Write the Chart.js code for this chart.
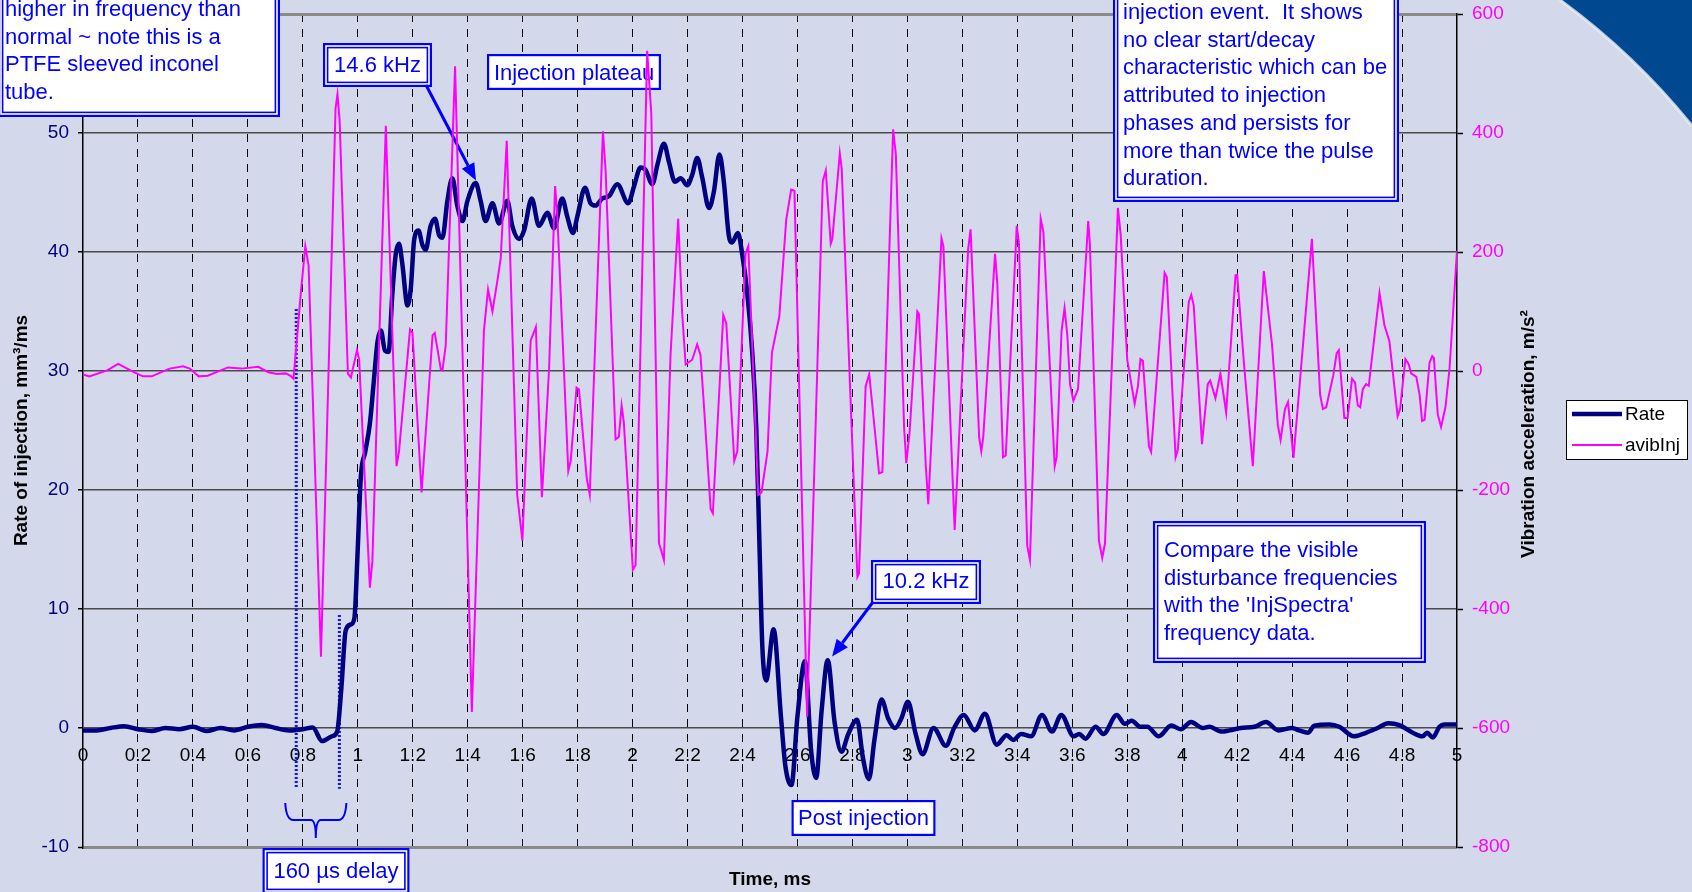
<!DOCTYPE html>
<html>
<head>
<meta charset="utf-8">
<title>Rate of injection vs vibration</title>
<script src="https://cdn.jsdelivr.net/npm/chart.js@4.4.1/dist/chart.umd.min.js"></script>
<style>
  html, body { margin: 0; padding: 0; background: #d3d9ea; }
  #wrap { position: relative; width: 1692px; height: 892px; overflow: hidden; }
  canvas { display: block; }
</style>
</head>
<body>
<div id="wrap"><canvas id="injChart" width="1692" height="892"></canvas></div>
<script>
// [time ms, rate mm3/ms]
const ratePoints = [
  [0.00,-0.2],[0.05,-0.2],[0.10,0.0],[0.15,0.15],[0.20,-0.1],[0.25,-0.25],[0.30,0.0],[0.35,-0.1],[0.40,0.1],[0.45,-0.25],
  [0.50,0.0],[0.55,-0.2],[0.60,0.1],[0.65,0.25],[0.70,0.0],[0.75,-0.2],[0.80,-0.1],[0.836,0.05],[0.870,-1.1],[0.905,-0.7],
  [0.925,-0.3],[0.940,3.3],[0.956,8.2],[0.975,8.7],[0.988,9.3],[0.999,14.6],[1.011,21.1],[1.027,23.2],[1.044,25.6],[1.057,28.8],
  [1.072,32.5],[1.084,33.4],[1.099,31.7],[1.112,31.6],[1.126,36.6],[1.138,39.8],[1.150,40.7],[1.162,39.0],[1.181,35.5],[1.193,37.0],
  [1.205,41.0],[1.221,41.8],[1.235,40.6],[1.247,40.2],[1.265,42.2],[1.281,42.8],[1.296,41.4],[1.308,41.2],[1.326,44.3],[1.344,46.2],
  [1.362,43.9],[1.381,42.6],[1.399,44.3],[1.429,45.8],[1.447,44.3],[1.465,42.6],[1.490,44.1],[1.514,42.4],[1.544,44.3],[1.562,42.2],
  [1.587,41.1],[1.605,41.8],[1.633,44.5],[1.659,42.2],[1.690,43.3],[1.714,42.0],[1.744,44.5],[1.762,43.0],[1.783,41.6],[1.799,43.0],
  [1.827,45.4],[1.847,44.1],[1.865,43.9],[1.890,44.5],[1.914,44.7],[1.944,45.7],[1.984,44.1],[2.005,45.5],[2.029,47.1],[2.047,46.9],
  [2.072,45.7],[2.090,47.3],[2.114,49.1],[2.133,47.5],[2.154,45.9],[2.175,46.2],[2.199,45.6],[2.217,46.5],[2.235,47.9],[2.253,46.3],
  [2.278,43.7],[2.296,45.1],[2.316,48.2],[2.332,45.9],[2.350,41.4],[2.362,40.8],[2.383,41.6],[2.399,39.8],[2.417,36.6],[2.435,31.7],
  [2.450,25.2],[2.462,15.1],[2.472,6.9],[2.486,4.0],[2.513,8.3],[2.540,0.9],[2.556,-3.2],[2.578,-4.8],[2.600,1.0],[2.627,5.6],
  [2.650,-2.0],[2.668,-4.2],[2.688,1.5],[2.710,5.7],[2.735,0.5],[2.760,-2.0],[2.785,-0.5],[2.817,0.7],[2.838,-2.5],[2.860,-4.3],
  [2.880,-1.0],[2.906,2.4],[2.930,0.8],[2.955,0.0],[2.978,0.8],[3.002,2.2],[3.030,-0.5],[3.055,-2.2],[3.095,0.0],[3.140,-1.5],
  [3.170,0.0],[3.205,1.1],[3.245,-0.2],[3.282,1.2],[3.325,-1.4],[3.361,-0.6],[3.385,-1.0],[3.414,-0.5],[3.450,-0.7],[3.490,1.1],
  [3.526,-0.3],[3.560,1.1],[3.605,-0.7],[3.625,-0.5],[3.648,-0.9],[3.685,0.1],[3.713,-0.5],[3.762,1.1],[3.791,0.35],[3.816,0.6],
  [3.848,0.1],[3.873,0.1],[3.915,-0.7],[3.960,0.2],[3.995,-0.1],[4.032,0.5],[4.075,0.0],[4.100,0.1],[4.141,-0.3],[4.173,-0.2],
  [4.213,0.0],[4.263,0.1],[4.305,0.5],[4.350,-0.2],[4.400,0.0],[4.425,-0.2],[4.457,-0.4],[4.481,0.2],[4.536,0.3],[4.572,0.1],
  [4.625,-0.7],[4.669,-0.4],[4.711,0.0],[4.750,0.4],[4.790,0.25],[4.839,-0.4],[4.875,-0.7],[4.891,-0.4],[4.912,-0.8],[4.936,0.1],
  [4.954,0.3],[5.000,0.3]
];

// [time ms, acceleration m/s2]
const vibPoints = [
  [0.000,-6],[0.023,-9],[0.088,1],[0.128,12],[0.185,-2],[0.218,-9],[0.250,-9],[0.315,4],[0.364,8],[0.389,4],
  [0.421,-9],[0.454,-8],[0.527,6],[0.576,4],[0.638,7],[0.674,-2],[0.706,-5],[0.738,-4],[0.755,-8],[0.766,-13],
  [0.775,35],[0.793,133],[0.809,210],[0.821,177],[0.866,-480],[0.919,441],[0.926,465],[0.934,420],[0.964,-5],[0.975,-11],
  [0.997,35],[1.005,19],[1.044,-364],[1.053,-320],[1.102,412],[1.141,-160],[1.150,-135],[1.190,70],[1.199,64],[1.232,-204],
  [1.272,60],[1.280,64],[1.302,3],[1.308,1],[1.320,43],[1.354,512],[1.415,-573],[1.459,68],[1.474,137],[1.490,100],
  [1.507,149],[1.520,189],[1.542,387],[1.580,-208],[1.599,-285],[1.629,51],[1.648,74],[1.670,-212],[1.696,3],[1.718,311],
  [1.726,262],[1.766,-168],[1.775,-151],[1.796,-28],[1.805,-31],[1.833,-180],[1.844,-208],[1.892,403],[1.902,335],[1.938,-115],
  [1.950,-111],[1.960,-58],[1.968,-86],[2.001,-334],[2.011,-326],[2.053,538],[2.068,433],[2.096,-289],[2.114,-318],[2.138,27],
  [2.166,256],[2.180,100],[2.193,11],[2.217,19],[2.235,45],[2.247,27],[2.259,-54],[2.284,-232],[2.292,-239],[2.330,94],
  [2.341,80],[2.370,-151],[2.381,-135],[2.411,198],[2.421,210],[2.457,-208],[2.469,-204],[2.491,-135],[2.507,31],[2.534,92],
  [2.559,254],[2.577,305],[2.589,303],[2.635,-581],[2.692,319],[2.703,337],[2.721,214],[2.727,222],[2.754,366],[2.761,340],
  [2.818,-346],[2.824,-340],[2.848,-26],[2.861,-5],[2.897,-172],[2.909,-170],[2.948,406],[2.958,364],[2.988,-95],[2.996,-155],
  [3.008,-103],[3.036,100],[3.042,96],[3.067,-160],[3.076,-224],[3.124,223],[3.131,210],[3.172,-267],[3.221,205],[3.230,238],
  [3.261,-111],[3.269,-135],[3.276,-111],[3.319,197],[3.327,149],[3.348,-145],[3.358,-142],[3.398,244],[3.406,214],[3.436,-293],
  [3.446,-318],[3.485,256],[3.495,234],[3.536,-160],[3.543,-145],[3.561,68],[3.572,106],[3.582,60],[3.592,-23],[3.604,-50],
  [3.621,-30],[3.658,252],[3.664,214],[3.697,-285],[3.709,-314],[3.719,-290],[3.766,274],[3.776,230],[3.800,19],[3.827,-55],
  [3.839,-25],[3.848,20],[3.857,17],[3.879,-127],[3.887,-136],[3.936,165],[3.944,158],[3.976,-145],[3.984,-133],[4.024,116],
  [4.033,128],[4.042,110],[4.072,-123],[4.093,-22],[4.102,-16],[4.121,-46],[4.139,-4],[4.160,-70],[4.194,161],[4.200,162],
  [4.224,17],[4.257,-160],[4.297,168],[4.327,44],[4.348,-91],[4.358,-116],[4.374,-64],[4.385,-52],[4.405,-146],[4.472,222],
  [4.502,-40],[4.512,-64],[4.524,-61],[4.550,-7],[4.562,30],[4.570,35],[4.590,-79],[4.602,-79],[4.618,-13],[4.629,-19],
  [4.639,-58],[4.648,-61],[4.657,-31],[4.669,-22],[4.679,-25],[4.687,8],[4.718,131],[4.736,77],[4.754,50],[4.784,-76],
  [4.793,-64],[4.812,20],[4.824,12],[4.833,-4],[4.852,-10],[4.864,-40],[4.873,-84],[4.882,-82],[4.900,14],[4.910,25],
  [4.916,22],[4.930,-73],[4.942,-94],[4.958,-61],[4.973,5],[5.000,202]
];

const timeTicks = [0,0.2,0.4,0.6,0.8,1,1.2,1.4,1.6,1.8,2,2.2,2.4,2.6,2.8,3,3.2,3.4,3.6,3.8,4,4.2,4.4,4.6,4.8,5];
const rateTicks = [-10,0,10,20,30,40,50,60];
const accelTicks = [-800,-600,-400,-200,0,200,400,600];

// injection delay markers (ms) and arrow targets [ms, rate]
const delayStart = 0.776;
const delayEnd = 0.933;
const plateauArrowTip = [1.43, 46];
const postArrowTip = [2.726, 6.0];

const FONT = '"Liberation Sans", Arial, sans-serif';
const BLUE = '#0000ff';
const NAVY = '#000080';
const PINK = '#ff00ff';

const noteBoxes = [
  { x: -2, y: -60, w: 282, h: 177, double: true, align: 'left', tx: 5, ty: 16,
    lines: ['higher in frequency than', 'normal ~ note this is a', 'PTFE sleeved inconel', 'tube.'] },
  { x: 1113, y: -60, w: 286, h: 262, double: true, align: 'left', tx: 1123, ty: 19,
    lines: ['injection event.  It shows', 'no clear start/decay', 'characteristic which can be',
            'attributed to injection', 'phases and persists for', 'more than twice the pulse', 'duration.'] },
  { x: 323, y: 43, w: 109, h: 44, double: true, align: 'center', tx: 377.5, ty: 72, lines: ['14.6 kHz'] },
  { x: 487, y: 54, w: 174, h: 36, double: false, align: 'center', tx: 574, ty: 79.5, lines: ['Injection plateau'] },
  { x: 1153, y: 521, w: 273, h: 142, double: true, align: 'left', tx: 1164, ty: 557,
    lines: ['Compare the visible', 'disturbance frequencies', "with the 'InjSpectra'", 'frequency data.'] },
  { x: 871, y: 560, w: 110, h: 44, double: true, align: 'center', tx: 926, ty: 588, lines: ['10.2 kHz'] },
  { x: 791.5, y: 800, w: 144, h: 36, double: false, align: 'center', tx: 863.5, ty: 825, lines: ['Post injection'] },
  { x: 262.5, y: 848, w: 147, h: 46, double: true, align: 'center', tx: 336, ty: 878, lines: ['160 \u00b5s delay'] }
];

function drawBox(ctx, b) {
  ctx.save();
  ctx.fillStyle = '#fff';
  ctx.fillRect(b.x, b.y, b.w, b.h);
  ctx.strokeStyle = BLUE;
  ctx.lineWidth = 2.2;
  ctx.strokeRect(b.x + 1.1, b.y + 1.1, b.w - 2.2, b.h - 2.2);
  if (b.double) {
    ctx.lineWidth = 1.6;
    ctx.strokeRect(b.x + 4.6, b.y + 4.6, b.w - 9.2, b.h - 9.2);
  }
  ctx.fillStyle = BLUE;
  ctx.font = '22px ' + FONT;
  ctx.textAlign = b.align;
  ctx.textBaseline = 'alphabetic';
  b.lines.forEach((t, i) => ctx.fillText(t, b.tx, b.ty + i * 27.7));
  ctx.restore();
}

function drawArrow(ctx, x1, y1, x2, y2) {
  const a = Math.atan2(y2 - y1, x2 - x1), L = 17, W = 7;
  const bx = x2 - L * Math.cos(a), by = y2 - L * Math.sin(a);
  ctx.beginPath();
  ctx.moveTo(x1, y1);
  ctx.lineTo(bx, by);
  ctx.stroke();
  ctx.beginPath();
  ctx.moveTo(x2, y2);
  ctx.lineTo(bx - W * Math.sin(a), by + W * Math.cos(a));
  ctx.lineTo(bx + W * Math.sin(a), by - W * Math.cos(a));
  ctx.closePath();
  ctx.fill();
}

const slideDecor = {
  id: 'slideDecor',
  beforeDraw(chart) {
    const ctx = chart.ctx;
    ctx.save();
    ctx.fillStyle = '#d3d9ea';
    ctx.fillRect(0, 0, chart.width, chart.height);
    // blue swoosh in the top right corner
    ctx.beginPath();
    ctx.moveTo(1560, 0);
    ctx.quadraticCurveTo(1635, 55, 1692, 126);
    ctx.lineTo(1692, 0);
    ctx.closePath();
    ctx.fillStyle = '#00488f';
    ctx.fill();
    ctx.beginPath();
    ctx.moveTo(1560, 0);
    ctx.quadraticCurveTo(1635, 55, 1692, 126);
    ctx.strokeStyle = 'rgba(235,240,250,0.8)';
    ctx.lineWidth = 3;
    ctx.stroke();
    ctx.restore();
  },
  beforeDatasetsDraw(chart) {
    const ctx = chart.ctx, x = chart.scales.x, y = chart.scales.y;
    ctx.save();
    noteBoxes.forEach(b => drawBox(ctx, b));

    // dotted delay markers
    ctx.strokeStyle = '#1010ff';
    ctx.lineWidth = 3;
    ctx.setLineDash([2, 2]);
    ctx.beginPath();
    ctx.moveTo(x.getPixelForValue(delayStart), y.getPixelForValue(35.2));
    ctx.lineTo(x.getPixelForValue(delayStart), y.getPixelForValue(-5));
    ctx.moveTo(x.getPixelForValue(delayEnd), y.getPixelForValue(9.5));
    ctx.lineTo(x.getPixelForValue(delayEnd), y.getPixelForValue(-5.1));
    ctx.stroke();
    ctx.setLineDash([]);

    // curly brace under the delay
    const bl = x.getPixelForValue(delayStart) - 11, br = x.getPixelForValue(delayEnd) + 7;
    const bm = (bl + br) / 2, top = 803, mid = 820, tip = 838;
    ctx.strokeStyle = BLUE;
    ctx.lineWidth = 2;
    ctx.beginPath();
    ctx.moveTo(bl, top);
    ctx.quadraticCurveTo(bl + 1, mid, bl + 8, mid);
    ctx.lineTo(bm - 5, mid);
    ctx.quadraticCurveTo(bm, mid, bm, tip);
    ctx.quadraticCurveTo(bm, mid, bm + 5, mid);
    ctx.lineTo(br - 8, mid);
    ctx.quadraticCurveTo(br - 1, mid, br, top);
    ctx.stroke();

    // arrows from the frequency labels
    ctx.strokeStyle = BLUE;
    ctx.fillStyle = BLUE;
    ctx.lineWidth = 3;
    drawArrow(ctx, 426, 85, x.getPixelForValue(plateauArrowTip[0]), y.getPixelForValue(plateauArrowTip[1]));
    drawArrow(ctx, 873, 602, x.getPixelForValue(postArrowTip[0]), y.getPixelForValue(postArrowTip[1]));
    ctx.restore();
  },
  afterDraw(chart) {
    const ctx = chart.ctx, area = chart.chartArea;
    ctx.save();
    ctx.fillStyle = '#000';
    ctx.font = 'bold 19px ' + FONT;
    ctx.textAlign = 'center';
    ctx.textBaseline = 'middle';
    ctx.fillText('Time, ms', (area.left + area.right) / 2, 880);
    ctx.translate(1529, 434);
    ctx.rotate(-Math.PI / 2);
    ctx.fillText('Vibration acceleration, m/s\u00b2', 0, 0);
    ctx.restore();

    // legend
    ctx.save();
    ctx.fillStyle = '#fff';
    ctx.fillRect(1566, 400, 122, 60);
    ctx.strokeStyle = '#000';
    ctx.lineWidth = 1;
    ctx.strokeRect(1566.5, 400.5, 121, 59);
    chart.data.datasets.slice().sort((a, b) => b.order - a.order).forEach((ds, i) => {
      const ly = 414 + i * 31;
      ctx.strokeStyle = ds.borderColor;
      ctx.lineWidth = ds.borderWidth;
      ctx.beginPath();
      ctx.moveTo(1572, ly);
      ctx.lineTo(1622, ly);
      ctx.stroke();
      ctx.fillStyle = '#000';
      ctx.font = '19px ' + FONT;
      ctx.textAlign = 'left';
      ctx.textBaseline = 'middle';
      ctx.fillText(ds.label, 1625, ly + 1);
    });
    ctx.restore();
  }
};

Chart.defaults.font.family = FONT;

function fitVertical(width) {
  return s => {
    s.width = width;
    s.paddingTop = 0;
    s.paddingBottom = 0;
  };
}

new Chart(document.getElementById('injChart'), {
  type: 'line',
  data: {
    datasets: [
      {
        label: 'Rate',
        data: ratePoints.map(p => ({ x: p[0], y: p[1] })),
        yAxisID: 'y',
        borderColor: NAVY,
        borderWidth: 4.5,
        cubicInterpolationMode: 'monotone',
        pointRadius: 0,
        order: 1
      },
      {
        label: 'avibInj',
        data: vibPoints.map(p => ({ x: p[0], y: p[1] })),
        yAxisID: 'y1',
        borderColor: PINK,
        borderWidth: 2,
        tension: 0,
        pointRadius: 0,
        order: 0
      }
    ]
  },
  options: {
    responsive: false,
    animation: false,
    devicePixelRatio: 1,
    layout: { padding: { top: 14, bottom: 45, left: 0, right: 152 } },
    plugins: { legend: { display: false }, tooltip: { enabled: false }, title: { display: false } },
    scales: {
      x: {
        type: 'linear',
        position: { y: 0 },
        min: 0,
        max: 5,
        afterBuildTicks: s => { s.ticks = timeTicks.map(v => ({ value: v })); },
        afterFit: s => { s.height = 0; },
        grid: {
          color: c => (c.tick && (c.tick.value === 0 || c.tick.value === 5)) ? 'rgba(0,0,0,0)' : '#000',
          lineWidth: 1,
          drawTicks: false
        },
        border: { display: false, dash: [8, 7] },
        ticks: {
          color: '#000',
          font: { size: 19 },
          padding: 16,
          autoSkip: false,
          maxRotation: 0,
          callback: v => String(+v.toFixed(1))
        }
      },
      y: {
        position: 'left',
        min: -10,
        max: 60,
        afterBuildTicks: s => { s.ticks = rateTicks.map(v => ({ value: v })); },
        afterFit: fitVertical(83),
        grid: {
          color: c => (c.tick && (c.tick.value === 60 || c.tick.value === -10)) ? '#8a8a8a' : '#4a4a4a',
          lineWidth: c => (c.tick && (c.tick.value === 60 || c.tick.value === -10)) ? 3 : 1.5,
          tickLength: 5,
          tickColor: '#000',
          tickWidth: 1.5
        },
        border: { color: '#000', width: 1.5 },
        ticks: { color: NAVY, font: { size: 19 }, padding: 9 },
        title: {
          display: true,
          text: 'Rate of injection, mm\u00b3/ms',
          color: '#000',
          font: { size: 19, weight: 'bold' },
          padding: { top: 10, bottom: 0 }
        }
      },
      y1: {
        position: 'right',
        min: -800,
        max: 600,
        afterBuildTicks: s => { s.ticks = accelTicks.map(v => ({ value: v })); },
        afterFit: fitVertical(83),
        grid: { drawOnChartArea: false, tickLength: 6, tickColor: '#000', tickWidth: 1.5 },
        border: { color: '#000', width: 1.5 },
        ticks: { color: PINK, font: { size: 19 }, padding: 9 }
      }
    }
  },
  plugins: [slideDecor]
});
</script>
</body>
</html>
